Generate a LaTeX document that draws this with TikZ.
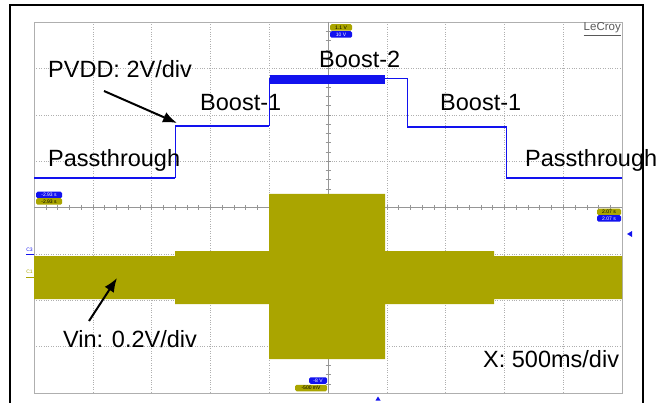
\documentclass[tikz,border=0pt]{standalone}
\usepackage{fontspec}
\setmainfont{Liberation Sans}
\usetikzlibrary{arrows.meta}
\definecolor{pvddblue}{RGB}{18,18,238}
\definecolor{vinyellow}{RGB}{170,165,0}
\definecolor{gridgray}{RGB}{175,175,175}
\definecolor{tickgray}{RGB}{150,150,150}
\begin{document}
\begin{tikzpicture}[x=1pt,y=-1pt]
		\tikzset{> = {Latex[length=14pt,width=11pt]}}
		\tikzset{lbl/.style = {anchor=base west,inner sep=0pt,font=\fontsize{23.5}{28}\selectfont}}
		\tikzset{badge/.style = {rounded corners=1.5pt,inner sep=0pt,minimum height=6.5pt,font=\fontsize{5}{5}\selectfont}}
		\useasboundingbox (0,0) rectangle (671,403);
		% screen frame
		\draw[line width = 1.5pt] (10,404) -- (10,5) -- (643,5) -- (643,404);
		% graticule
		\foreach \i in {1,...,9}
			\draw[gridgray,dotted] ({34+58.8*\i},22) -- ({34+58.8*\i},393);
		\foreach \j in {1,...,7}
			\draw[gridgray,dotted] (34,{22+46.375*\j}) -- (622,{22+46.375*\j});
		\draw[gridgray] (34,22) rectangle (622,393);
		\draw[tickgray] (328,22) -- (328,393);
		\draw[tickgray] (34,207.5) -- (622,207.5);
		\foreach \k in {1,...,49}
			\draw[tickgray] ({34+11.76*\k},205) -- ({34+11.76*\k},210);
		\foreach \k in {1,...,39}
			\draw[tickgray] (325.5,{22+9.275*\k}) -- (330.5,{22+9.275*\k});
		% Vin trace
		\fill[vinyellow] (34,256) -- (175,256) -- (175,251) -- (269,251) -- (269,194) -- (385,194)
			-- (385,251) -- (494,251) -- (494,256) -- (622,256) -- (622,299) -- (494,299)
			-- (494,304) -- (385,304) -- (385,359) -- (269,359) -- (269,304) -- (175,304)
			-- (175,299) -- (34,299) -- cycle;
		% PVDD trace
		\draw[pvddblue,line width = 1pt] (34,178) -- (175,178) -- (175,126) -- (269,126) -- (269,79)
			-- (407,79) -- (407,127) -- (506,127) -- (506,178) -- (622,178);
		\draw[pvddblue,line width = 2.6pt] (34,178) -- (175,178);
		\draw[pvddblue,line width = 2.2pt] (175,126) -- (269,126);
		\fill[pvddblue] (270,75) rectangle (385,84.5);
		\draw[pvddblue,line width = 2.2pt] (407,127) -- (506,127);
		\draw[pvddblue,line width = 2.4pt] (506,178) -- (622,178);
		% labels
		\node[lbl] (pvddlabel) at (48,78) {PVDD: 2V/div};
		\node[lbl] (boosttwo) at (319,68) {Boost-2};
		\node[lbl] (boostonel) at (200,111) {Boost-1};
		\node[lbl] (boostoner) at (440,111) {Boost-1};
		\node[lbl] (passl) at (48,167) {Passthrough};
		\node[lbl] (passr) at (525,167) {Passthrough};
		\node[lbl] (vinlabel) at (63,347) {Vin: 0.2V/div};
		\node[lbl] (xlabel) at (483,367) {X: 500ms/div};
		\node[anchor=base east,inner sep=0pt,text=black!65,font=\fontsize{11.5}{12}\selectfont] (lecroy) at (621,31) {\underline{LeCroy}};
		% arrows
		\coordinate (pvddtail) at (104,91);
		\coordinate (pvddtip) at (177,123);
		\coordinate (vintail) at (89,321);
		\coordinate (vintip) at (117,278);
		\draw[->,line width = 2pt] (pvddtail) -- (pvddtip);
		\draw[->,line width = 2pt] (vintail) -- (vintip);
		% scope markers
		\node[badge,fill=vinyellow,minimum width=22pt] (topy) at (341,27.5) {1.1 V};
		\node[badge,fill=pvddblue,text=white,minimum width=22pt] (topb) at (341,34.5) {10 V};
		\node[badge,fill=pvddblue,text=white,minimum width=26pt] (leftb) at (49,195) {-2.93 s};
		\node[badge,fill=vinyellow,minimum width=26pt] (lefty) at (49,201.5) {-2.93 s};
		\node[badge,fill=vinyellow,minimum width=24pt] (righty) at (609,212) {2.07 s};
		\node[badge,fill=pvddblue,text=white,minimum width=24pt] (rightb) at (609,218.5) {2.07 s};
		\node[badge,fill=pvddblue,text=white,minimum width=18pt] (botb) at (318,380.5) {-8 V};
		\node[badge,fill=vinyellow,minimum width=32pt] (boty) at (311,388) {-500 mV};
		\node[inner sep=0pt,text=pvddblue,font=\fontsize{5}{5}\selectfont] (cthree) at (29.5,249.5) {C3};
		\node[inner sep=0pt,text=vinyellow,font=\fontsize{5}{5}\selectfont] (cone) at (29.5,271.5) {C1};
		\draw[pvddblue,line width = 1pt] (26,254) -- (34,254);
		\draw[vinyellow,line width = 1pt] (26,277) -- (34,277);
		\fill[pvddblue] (627,234) -- (632,231) -- (632,237) -- cycle;
		\fill[pvddblue] (378,396.5) -- (375.5,400.5) -- (380.5,400.5) -- cycle;
	\end{tikzpicture}
\end{document}
